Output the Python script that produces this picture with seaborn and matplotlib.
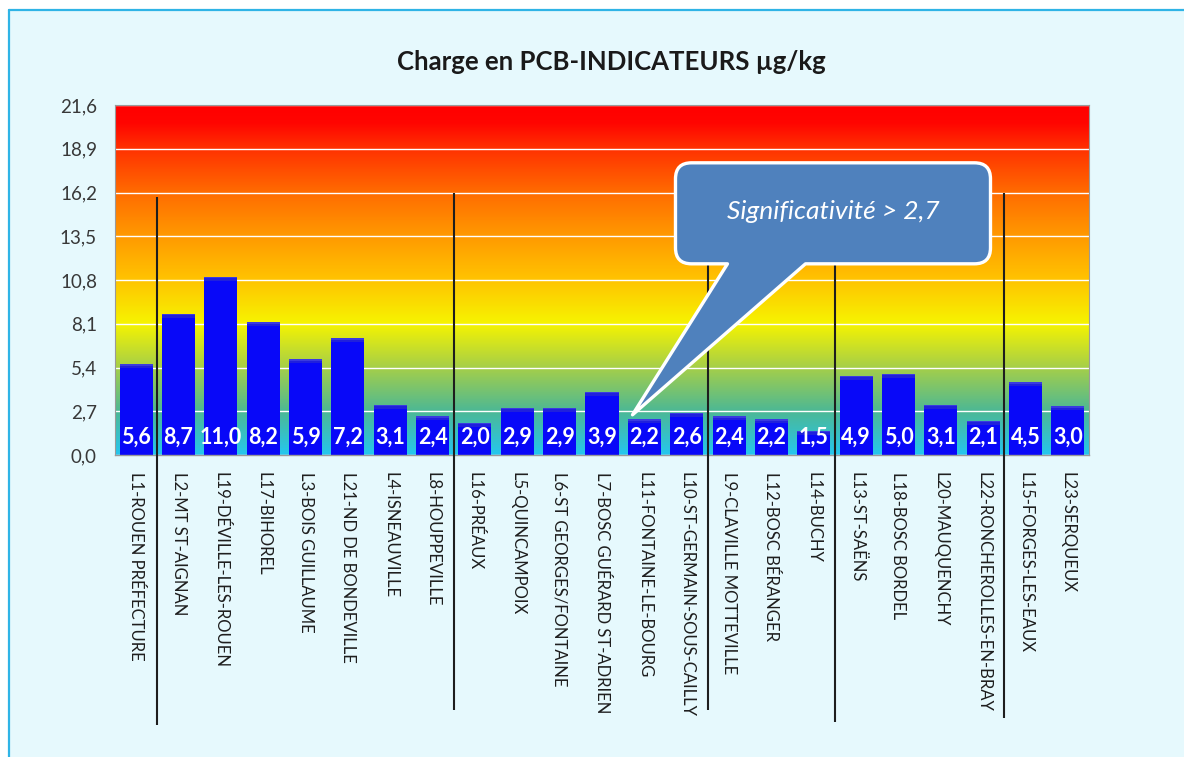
import numpy as np
import pandas as pd
import matplotlib
matplotlib.use("Agg")
import matplotlib.pyplot as plt
import seaborn as sns
from matplotlib.colors import LinearSegmentedColormap
from matplotlib.patches import Rectangle, PathPatch
from matplotlib.path import Path
from matplotlib.transforms import ScaledTranslation

# ---- data -------------------------------------------------------------
stations = [
    "L1-Rouen préfecture", "L2-Mt St-Aignan", "L19-Déville-les-Rouen",
    "L17-Bihorel", "L3-Bois Guillaume", "L21-ND de Bondeville",
    "L4-Isneauville", "L8-Houppeville", "L16-Préaux", "L5-Quincampoix",
    "L6-St Georges/Fontaine", "L7-Bosc Guérard St-Adrien",
    "L11-Fontaine-le-Bourg", "L10-St-Germain-sous-Cailly",
    "L9-Claville Motteville", "L12-Bosc Béranger", "L14-Buchy",
    "L13-St-Saëns", "L18-Bosc Bordel", "L20-Mauquenchy",
    "L22-Roncherolles-en-Bray", "L15-Forges-les-Eaux", "L23-Serqueux",
]
charge = [5.6, 8.7, 11.0, 8.2, 5.9, 7.2, 3.1, 2.4, 2.0, 2.9, 2.9, 3.9,
          2.2, 2.6, 2.4, 2.2, 1.5, 4.9, 5.0, 3.1, 2.1, 4.5, 3.0]
# number of stations in each consecutive group (separated by vertical rules)
group_sizes = [1, 7, 6, 3, 4, 2]
y_ticks = [0.0, 2.7, 5.4, 8.1, 10.8, 13.5, 16.2, 18.9, 21.6]
threshold_station = "L11-Fontaine-le-Bourg"
threshold_text = "Significativité > 2,7"
title = "Charge en PCB-INDICATEURS µg/kg"

df = pd.DataFrame({"station": stations, "charge": charge})

# ---- style ------------------------------------------------------------
sns.set_theme(style="white")
plt.rcParams["font.family"] = ["Lato", "DejaVu Sans"]

W, H = 1184, 757
fig = plt.figure(figsize=(W / 100, H / 100), dpi=100, facecolor="#e6f9fd")

# white margin and blue frame line at top/left
fig.patches.append(Rectangle((0, 1 - 10 / H), 1, 10 / H, transform=fig.transFigure,
                             facecolor="white", edgecolor="none", zorder=0))
fig.patches.append(Rectangle((0, 0), 9 / W, 1, transform=fig.transFigure,
                             facecolor="white", edgecolor="none", zorder=0))
fig.lines.append(plt.Line2D([9 / W, 1], [1 - 10 / H, 1 - 10 / H], transform=fig.transFigure,
                            color="#2fb4e6", lw=1.6))
fig.lines.append(plt.Line2D([9 / W, 9 / W], [0, 1 - 10 / H], transform=fig.transFigure,
                            color="#2fb4e6", lw=1.6))

ax = fig.add_axes([115 / W, 1 - 455 / H, 974 / W, 350 / H])
ax.set_facecolor("none")

n = len(stations)
ymax = y_ticks[-1]

# background colour ramp (green -> yellow -> red)
ramp = LinearSegmentedColormap.from_list("ramp", [
    (0.0, "#25c6ee"), (0.125, "#4db894"), (0.25, "#a6cf48"), (0.375, "#f6f400"),
    (0.5, "#ffc400"), (0.625, "#ff9a00"), (0.75, "#ff6c00"), (0.875, "#ff3200"),
    (0.95, "#ff0500"), (1.0, "#ff0000")])
ax.imshow(np.linspace(0, 1, 512).reshape(-1, 1), cmap=ramp, origin="lower",
          extent=(-0.5, n - 0.5, 0, ymax), aspect="auto", zorder=0)

sns.barplot(data=df, x="station", y="charge", color="#0808f8", saturation=1,
            width=0.78, ax=ax, zorder=2, linewidth=0, edgecolor="none")

# slightly darker band on top of each bar
for p in ax.patches:
    h = p.get_height()
    ax.add_patch(Rectangle((p.get_x(), h - 0.25), p.get_width(), 0.25,
                           facecolor="#2020dc", edgecolor="none", zorder=3))
    ax.add_patch(Rectangle((p.get_x(), h - 0.09), p.get_width(), 0.09,
                           facecolor="#3a3ae0", edgecolor="none", zorder=3))

# value labels at the foot of each bar
for i, v in enumerate(charge):
    ax.text(i, 1.1, f"{v:.1f}".replace(".", ","), ha="center", va="center",
            color="white", fontsize=15.5, fontweight="bold", zorder=4)

ax.set_xlim(-0.5, n - 0.5)
ax.set_ylim(0, ymax)
ax.set_yticks(y_ticks)
ax.set_yticklabels([f"{t:.1f}".replace(".", ",") for t in y_ticks])
ax.yaxis.grid(True, color=(1, 1, 1, 0.22), lw=1)
ax.set_axisbelow(True)
ax.set_xlabel("")
ax.set_ylabel("")

ax.set_xticks(range(n))
ax.set_xticklabels([s.upper() for s in stations], rotation=-90, va="top", ha="center",
                   fontsize=12, color="#1e1e1e")
ax.set_xticks(np.arange(n + 1) - 0.5, minor=True)
ax.tick_params(axis="x", which="major", length=0, pad=12)
ax.tick_params(axis="x", which="minor", length=4, color="#b8b8b8", width=1)
ax.tick_params(axis="y", length=4, color="#a0a0a0", width=1, pad=9,
               labelsize=13.5, labelcolor="#383838")
for side in ["left", "right", "top"]:
    ax.spines[side].set_color("#9a9a9a")
    ax.spines[side].set_linewidth(0.8)
ax.spines["bottom"].set_color("#9a9a9a")
ax.spines["bottom"].set_linewidth(1.0)

# vertical rules between station groups
bounds = np.cumsum(group_sizes)[:-1] - 0.5
rule_bottoms = [-0.772, -0.729, -0.729, -0.764, -0.752]
for b, yb in zip(bounds, rule_bottoms):
    top = 15.9 if b < 1 else 16.2
    ax.plot([b, b], [top / ymax, yb], transform=ax.get_xaxis_transform(),
            color="#1e1e1e", lw=1.5, clip_on=False, zorder=5,
            solid_capstyle="butt")

# callout pointing to the threshold station
k = stations.index(threshold_station)
tip = ScaledTranslation(k - 0.28, charge[k] + 0.28, ax.transData)
tr = fig.dpi_scale_trans + tip
L, R, T, B, r = 0.43, 3.58, 2.52, 1.51, 0.16
t1, t2 = 0.95, 1.73
verts = [(t1, B), (0, 0), (t2, B), (R - r, B), (R, B), (R, B + r), (R, T - r),
         (R, T), (R - r, T), (L + r, T), (L, T), (L, T - r), (L, B + r),
         (L, B), (L + r, B), (t1, B)]
codes = [Path.MOVETO, Path.LINETO, Path.LINETO, Path.LINETO, Path.CURVE3, Path.CURVE3,
         Path.LINETO, Path.CURVE3, Path.CURVE3, Path.LINETO, Path.CURVE3, Path.CURVE3,
         Path.LINETO, Path.CURVE3, Path.CURVE3, Path.CLOSEPOLY]
callout = PathPatch(Path(verts, codes), facecolor="#4f81bd", edgecolor="white",
                    lw=2.4, transform=tr, zorder=8, clip_on=False, joinstyle="round")
ax.add_patch(callout)
ax.text((L + R) / 2, 2.03, threshold_text, transform=tr, ha="center", va="center",
        color="white", fontsize=19, fontstyle="italic", zorder=9)

fig.text(611 / W, 1 - 62 / H, title, ha="center", va="center", fontsize=18.5,
         fontweight="bold", color="#1a1a1a")

fig.savefig("out.png", dpi=100, facecolor=fig.get_facecolor())
